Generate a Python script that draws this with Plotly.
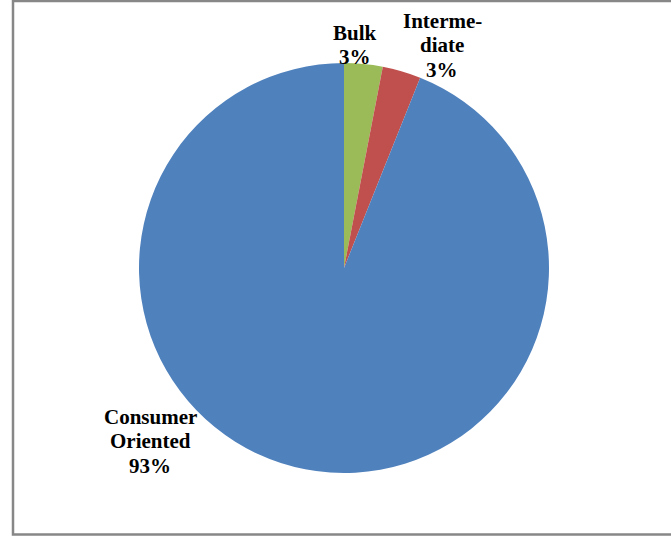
import plotly.graph_objects as go

W, H = 671, 540

categories = ["Bulk", "Intermediate", "Consumer Oriented"]
label_lines = [["Bulk"], ["Interme-", "diate"], ["Consumer", "Oriented"]]
shares = [3, 3, 93]
pct_text = ["3%", "3%", "93%"]
colors = ["#9BBB59", "#C0504D", "#4F81BD"]

# label block centres in pixels (layout)
label_pos = [(355, 45), (442, 45), (150, 441)]
line_pitch = 24.5

cx, cy, r = 344, 268, 205

fig = go.Figure(go.Pie(
    labels=categories,
    values=shares,
    sort=False,
    direction="clockwise",
    rotation=0,
    marker=dict(colors=colors, line=dict(width=0)),
    textinfo="none",
    hoverinfo="label+percent",
    showlegend=False,
    domain=dict(x=[(cx - r) / W, (cx + r) / W], y=[1 - (cy + r) / H, 1 - (cy - r) / H]),
))

annotations = []
for lines, pct, (px, py) in zip(label_lines, pct_text, label_pos):
    all_lines = lines + [pct]
    n = len(all_lines)
    for i, txt in enumerate(all_lines):
        ly = py + (i - (n - 1) / 2) * line_pitch
        annotations.append(dict(
            text=f"<b>{txt}</b>",
            x=px / W, y=1 - ly / H, xref="paper", yref="paper",
            xanchor="center", yanchor="middle", showarrow=False,
            font=dict(family="Liberation Serif", size=21, color="black"),
        ))

fig.update_layout(
    width=W, height=H,
    margin=dict(l=0, r=0, t=0, b=0),
    paper_bgcolor="white", plot_bgcolor="white",
    annotations=annotations,
    shapes=[dict(type="rect", xref="paper", yref="paper",
                 x0=13 / W, x1=1.2, y0=1 - 534.5 / H, y1=1 - 1 / H,
                 line=dict(color="#878787", width=2.5), fillcolor="rgba(0,0,0,0)")],
)

fig.write_html("out.html", config={"displayModeBar": False},
               post_script="document.body.style.margin='0';document.body.style.overflow='hidden';")
